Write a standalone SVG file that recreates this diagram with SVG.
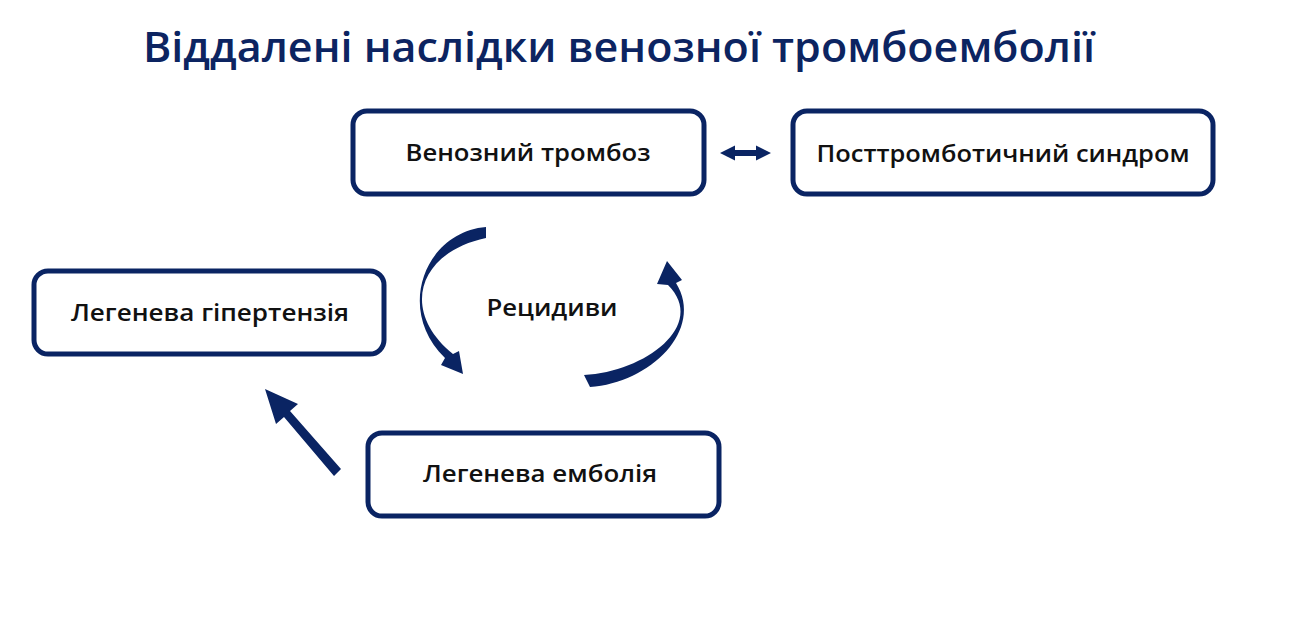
<svg xmlns="http://www.w3.org/2000/svg" width="1310" height="627" viewBox="0 0 1310 627">
<style>
.box{fill:#fff;stroke:#0a2463;stroke-width:5}
.lbl{font-family:"Open Sans","DejaVu Sans",sans-serif;font-weight:600;font-size:23px;fill:#111;text-anchor:middle}
.title{font-family:"Open Sans","DejaVu Sans",sans-serif;font-weight:560;font-size:42px;fill:#0c2461}
.arr{fill:#0a2463}
</style>
<rect width="1310" height="627" fill="#fff"/>
<text class="title" x="143" y="62" textLength="952" lengthAdjust="spacingAndGlyphs">Віддалені наслідки венозної тромбоемболії</text>
<g id="venous-thrombosis">
<rect class="box" x="353" y="111" width="351" height="83" rx="14"/>
<text class="lbl" x="528" y="161" textLength="245" lengthAdjust="spacingAndGlyphs">Венозний тромбоз</text>
</g>
<g id="post-thrombotic">
<rect class="box" x="793" y="111" width="420" height="83" rx="14"/>
<text class="lbl" x="1003" y="162" textLength="373" lengthAdjust="spacingAndGlyphs">Посттромботичний синдром</text>
</g>
<g id="pulmonary-hypertension">
<rect class="box" x="34" y="271" width="350" height="83" rx="14"/>
<text class="lbl" x="210" y="321" textLength="278" lengthAdjust="spacingAndGlyphs">Легенева гіпертензія</text>
</g>
<g id="pulmonary-embolism">
<rect class="box" x="368" y="433" width="351" height="83" rx="14"/>
<text class="lbl" x="540" y="482" textLength="234" lengthAdjust="spacingAndGlyphs">Легенева емболія</text>
</g>
<g id="recurrence">
<text class="lbl" x="552" y="316" textLength="131" lengthAdjust="spacingAndGlyphs">Рецидиви</text>
</g>
<g id="connectors">
<path class="arr" d="M720,153 L735,145.5 L735,150 L756,150 L756,145.5 L771,153 L756,160.5 L756,156 L735,156 L735,160.5 Z"/>
<path class="arr" d="M341,469 L334,476 L284,417 L276,424 L265,389 L298,404 L290,411 Z"/>
<path class="arr" d="M486,227 C425,232 395,310 445,358 L441,365 L463,374 L459,351 L453,354 C399,310 419,252 486,238 Z"/>
<path class="arr" d="M590,387 C650,383 705,330 676,283 L682,280 L667,261 L657,284 L668,285 C708,325 645,372 584,375 Z"/>
</g>
</svg>
